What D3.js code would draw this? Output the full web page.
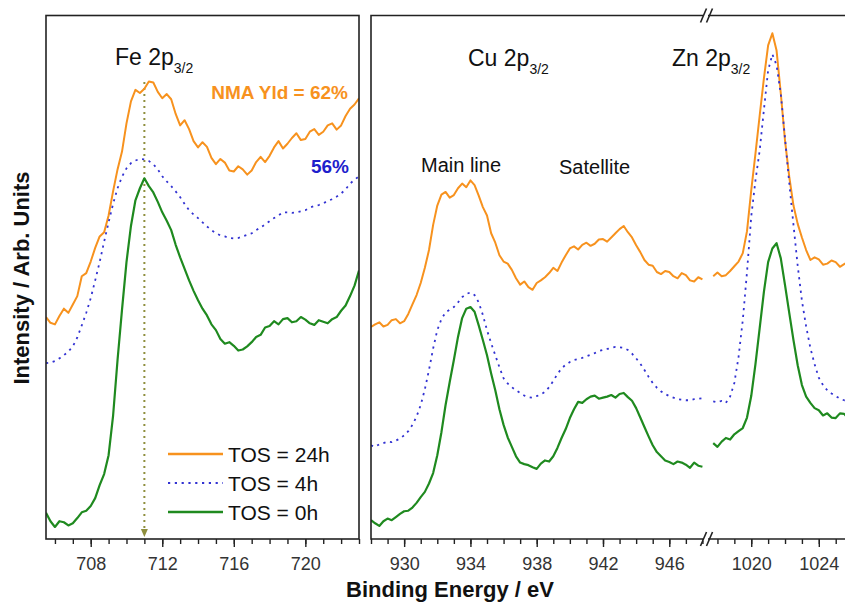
<!DOCTYPE html>
<html>
<head>
<meta charset="utf-8">
<script src="https://cdn.jsdelivr.net/npm/d3@7"></script>
<style>
  body { margin: 0; background: #fff; }
  svg { font-family: "Liberation Sans", Arial, sans-serif; }
</style>
</head>
<body>
<div id="chart-holder"></div>
<script>
// values, intensity in arbitrary units (0-100)
var feEnergy = [705.5, 705.75, 706, 706.25, 706.5, 706.75, 707, 707.25, 707.5, 707.75,
  708, 708.25, 708.5, 708.75, 709, 709.25, 709.5, 709.75, 710, 710.25,
  710.5, 710.75, 711, 711.25, 711.5, 711.75, 712, 712.25, 712.5, 712.75,
  713, 713.25, 713.5, 713.75, 714, 714.25, 714.5, 714.75, 715, 715.25,
  715.5, 715.75, 716, 716.25, 716.5, 716.75, 717, 717.25, 717.5, 717.75,
  718, 718.25, 718.5, 718.75, 719, 719.25, 719.5, 719.75, 720, 720.25,
  720.5, 720.75, 721, 721.25, 721.5, 721.75, 722, 722.25, 722.5, 722.75, 723];
var fe24h = [42.4, 41.3, 41.0, 42.6, 44.0, 43.2, 44.8, 46.4, 50.2, 50.8,
  53.0, 55.6, 57.8, 58.6, 61.8, 66.4, 70.6, 74.0, 79.4, 83.6,
  85.8, 85.2, 86.0, 87.4, 87.2, 85.4, 84.2, 85.0, 84.0, 81.2,
  79.0, 80.0, 78.3, 76.0, 74.8, 75.8, 74.9, 72.8, 71.6, 72.6,
  71.9, 70.4, 70.2, 71.2, 70.6, 69.6, 70.4, 72.0, 73.0, 72.0,
  73.2, 74.8, 76.0, 74.6, 75.5, 76.6, 77.5, 76.2, 76.4, 77.8,
  78.3, 77.2, 77.8, 79.0, 79.4, 78.2, 79.0, 80.8, 82.2, 83.0, 84.2];
var fe4h = [33.6, 33.7, 34.0, 34.5, 35.1, 35.8, 36.8, 38.5, 40.8, 43.2,
  46.0, 49.4, 52.9, 56.8, 60.5, 64.0, 67.0, 69.2, 70.8, 71.8,
  72.3, 72.6, 72.5, 72.2, 71.6, 70.6, 69.3, 68.3, 67.4, 66.4,
  65.3, 64.0, 62.8, 62.0, 61.3, 60.5, 59.7, 59.0, 58.4, 58.0,
  57.8, 57.5, 57.4, 57.5, 57.8, 58.1, 58.4, 59.0, 59.5, 60.1,
  60.7, 61.3, 61.8, 62.4, 62.4, 62.3, 62.4, 62.6, 62.8, 63.3,
  63.6, 63.8, 64.1, 64.6, 64.9, 65.4, 66.0, 66.8, 67.9, 68.6, 69.3];
var fe0h = [5.0, 3.4, 2.3, 3.4, 3.2, 2.6, 3.0, 4.0, 5.1, 5.4,
  6.3, 7.8, 10.3, 12.4, 16.0, 23.5, 34.2, 43.8, 52.9, 59.8,
  64.7, 67.0, 68.9, 67.4, 66.2, 64.4, 62.4, 60.8, 59.0, 56.2,
  53.8, 51.6, 49.4, 47.4, 45.6, 44.0, 42.7, 41.0, 39.9, 38.2,
  37.3, 37.6, 36.9, 36.0, 36.2, 36.8, 37.6, 38.6, 39.0, 40.4,
  40.7, 41.6, 41.0, 42.0, 42.2, 41.4, 41.6, 42.4, 41.9, 41.2,
  40.9, 41.8, 41.5, 41.2, 42.0, 42.4, 43.6, 44.6, 46.4, 48.4, 51.3];

var cuEnergy = [928, 928.25, 928.5, 928.75, 929, 929.25, 929.5, 929.75, 930, 930.25,
  930.5, 930.75, 931, 931.25, 931.5, 931.75, 932, 932.25, 932.5, 932.75,
  933, 933.25, 933.5, 933.75, 934, 934.25, 934.5, 934.75, 935, 935.25,
  935.5, 935.75, 936, 936.25, 936.5, 936.75, 937, 937.25, 937.5, 937.75,
  938, 938.25, 938.5, 938.75, 939, 939.25, 939.5, 939.75, 940, 940.25,
  940.5, 940.75, 941, 941.25, 941.5, 941.75, 942, 942.25, 942.5, 942.75,
  943, 943.25, 943.5, 943.75, 944, 944.25, 944.5, 944.75, 945, 945.25,
  945.5, 945.75, 946, 946.25, 946.5, 946.75, 947, 947.25, 947.5, 947.75, 948];
var cu24h = [40.5, 41.0, 41.4, 40.6, 40.9, 41.8, 42.0, 41.2, 41.6, 43.0,
  44.8, 46.6, 48.9, 51.8, 55.2, 60.0, 63.7, 65.8, 66.3, 65.2,
  65.7, 67.0, 67.9, 67.2, 68.5, 67.6, 65.6, 63.4, 61.8, 58.4,
  56.6, 54.2, 53.0, 52.6, 51.4, 49.8, 48.6, 49.2, 48.1, 47.6,
  48.9, 49.4, 50.0, 50.8, 51.8, 51.2, 52.8, 54.2, 55.5, 55.9,
  55.3, 56.2, 56.6, 56.0, 56.4, 57.2, 57.3, 56.8, 57.6, 58.4,
  59.2, 59.8, 58.6, 57.6, 56.1, 54.8, 53.3, 52.4, 52.2, 51.0,
  50.6, 51.2, 51.0, 50.2, 49.8, 50.8, 50.4, 49.4, 49.2, 50.0, 49.6];
var cu4h = [17.9, 17.6, 18.1, 18.3, 18.6, 18.5, 18.8, 19.2, 19.8, 20.6,
  21.8, 23.4, 25.6, 28.6, 32.3, 36.4, 39.9, 42.0, 43.3, 43.8,
  44.3, 45.2, 46.2, 46.8, 47.1, 46.6, 45.2, 42.8, 39.9, 37.4,
  35.1, 32.8, 30.7, 29.7, 29.0, 28.4, 27.9, 27.4, 27.1, 27.0,
  27.3, 27.6, 28.1, 29.0, 30.2, 31.5, 32.6, 33.3, 33.8, 34.2,
  34.4, 34.6, 34.9, 35.2, 35.5, 35.9, 36.1, 36.3, 36.5, 36.7,
  36.6, 36.5, 36.1, 35.4, 34.5, 33.5, 32.3, 31.0, 29.8, 28.9,
  28.2, 27.7, 27.3, 27.0, 26.7, 26.6, 26.5, 26.5, 26.7, 26.8, 26.9];
var cu0h = [3.6, 3.0, 2.5, 3.4, 3.9, 3.6, 4.2, 4.8, 5.3, 5.4,
  6.0, 6.9, 8.0, 9.0, 10.6, 12.6, 16.0, 20.4, 25.6, 30.0,
  34.2, 38.6, 42.2, 44.0, 44.3, 43.4, 40.8, 38.0, 35.1, 31.6,
  28.4, 24.8, 21.8, 19.4, 17.6, 15.8, 14.6, 14.3, 14.1, 13.7,
  13.4, 14.4, 15.0, 14.8, 15.8, 17.4, 19.3, 21.0, 23.1, 24.8,
  26.2, 26.0, 26.7, 27.2, 27.4, 26.8, 27.0, 27.2, 27.5, 27.0,
  27.7, 27.9, 27.1, 26.4, 25.0, 23.2, 21.4, 19.6, 17.9, 16.6,
  15.8, 15.0, 14.7, 14.3, 14.8, 14.6, 14.2, 13.6, 14.6, 14.0, 13.8];

var znEnergy = [1017.75, 1018, 1018.25, 1018.5, 1018.75, 1019, 1019.25, 1019.5, 1019.75,
  1020, 1020.25, 1020.5, 1020.75, 1021, 1021.25, 1021.5, 1021.75, 1022, 1022.25,
  1022.5, 1022.75, 1023, 1023.25, 1023.5, 1023.75, 1024, 1024.25, 1024.5, 1024.75,
  1025, 1025.25, 1025.5, 1025.75, 1026];
var zn24h = [50.2, 50.9, 50.2, 50.4, 51.2, 52.1, 53.0, 54.6, 58.8,
  66.6, 73.6, 80.9, 88.0, 94.3, 96.6, 93.3, 85.1, 76.1, 69.2,
  63.7, 60.2, 57.6, 55.2, 53.3, 53.8, 53.4, 52.4, 52.6, 53.2,
  52.9, 52.0, 52.5, 53.0, 52.8];
var zn4h = [26.3, 26.1, 26.4, 26.0, 27.2, 29.8, 34.8, 41.8, 51.0,
  61.6, 68.5, 74.2, 82.0, 89.5, 92.6, 90.5, 85.0, 76.5, 68.0,
  60.0, 52.2, 45.5, 40.6, 36.5, 33.4, 30.8, 29.4, 28.4, 27.8,
  27.3, 26.8, 26.5, 26.4, 26.4];
var zn0h = [18.3, 17.6, 18.6, 19.3, 19.0, 20.0, 20.6, 21.2, 23.2,
  27.3, 33.4, 40.3, 47.2, 52.9, 55.5, 56.5, 53.6, 48.5, 43.2,
  38.0, 33.2, 29.4, 27.2, 26.0, 25.0, 24.6, 23.6, 24.0, 23.2,
  23.1, 24.0, 23.9, 23.0, 23.4];

var feTicks = [708, 712, 716, 720];
var cuTicks = [930, 934, 938, 942, 946];
var znTicks = [1020, 1024];

var seriesNames = ["TOS = 24h", "TOS = 4h", "TOS = 0h"];
var yieldLabels = ["NMA Yld = 62%", "56%"];
var feMarker = 711;

// initializing constants for the figure
var width = 845,
    height = 602,
    plotTop = 15.5,
    plotBottom = 539;

var colors = ["#f7921e", "#3232d2", "#1f8a1f"];
var dashes = [null, "2.2,4.6", null];
var widths = [2, 1.8, 2.2];

var svg = d3
.select("#chart-holder")
.append("svg")
.attr("width", width)
.attr("height", height);

var y = d3.scaleLinear().domain([0, 100]).range([plotBottom, plotTop]);

var xFe = d3.scaleLinear().domain([705.5, 723]).range([46, 359]);
var xCu = d3.scaleLinear().domain([928, 948.3]).range([371, 707.4]);
var xZn = d3.scaleLinear().domain([1017.5, 1026]).range([709, 852.6]);

// clip areas for the two panels
var defs = svg.append("defs");
defs.append("clipPath").attr("id", "clip-fe")
  .append("rect").attr("x", 46).attr("y", plotTop).attr("width", 313).attr("height", plotBottom - plotTop);
defs.append("clipPath").attr("id", "clip-cu")
  .append("rect").attr("x", 371).attr("y", plotTop).attr("width", 500).attr("height", plotBottom - plotTop);

function drawSeries(xs, energy, series, clipId) {
  var g = svg.append("g").attr("clip-path", "url(#" + clipId + ")");
  series.forEach(function(vals, i) {
    var line = d3.line()
      .x(function(d) { return xs(d[0]); })
      .y(function(d) { return y(d[1]); });
    g.append("path")
      .datum(d3.zip(energy, vals))
      .attr("d", line)
      .attr("fill", "none")
      .attr("stroke", colors[i])
      .attr("stroke-width", widths[i])
      .attr("stroke-linejoin", "round")
      .attr("stroke-dasharray", dashes[i]);
  });
}

// marker line at the Fe peak (drawn under the curves)
var mx = xFe(feMarker);
svg.append("line")
  .attr("x1", mx).attr("x2", mx)
  .attr("y1", 82).attr("y2", 530)
  .attr("stroke", "#8f8f3e")
  .attr("stroke-width", 2)
  .attr("stroke-dasharray", "2,4");
svg.append("path")
  .attr("d", "M" + (mx - 3.5) + ",529 L" + (mx + 3.5) + ",529 L" + mx + ",537 Z")
  .attr("fill", "#8f8f3e");

drawSeries(xFe, feEnergy, [fe24h, fe4h, fe0h], "clip-fe");
drawSeries(xCu, cuEnergy, [cu24h, cu4h, cu0h], "clip-cu");
drawSeries(xZn, znEnergy, [zn24h, zn4h, zn0h], "clip-cu");

// axes
function drawAxis(xs, minor, major) {
  var gMinor = svg.append("g")
    .attr("transform", "translate(0," + plotBottom + ")")
    .call(d3.axisBottom(xs).tickValues(minor).tickSize(5).tickFormat(""));
  gMinor.select(".domain").remove();
  var gMajor = svg.append("g")
    .attr("transform", "translate(0," + plotBottom + ")")
    .call(d3.axisBottom(xs).tickValues(major).tickSize(8).tickPadding(10).tickFormat(d3.format("d")));
  gMajor.select(".domain").remove();
  svg.selectAll(".tick line").attr("stroke", "#222").attr("stroke-width", 1.4);
  gMajor.selectAll("text")
    .attr("font-size", 18)
    .attr("fill", "#333")
    .attr("font-family", "Liberation Sans, Arial, sans-serif");
}

drawAxis(xFe, d3.range(706, 724), feTicks);
drawAxis(xCu, d3.range(928, 949), cuTicks);
drawAxis(xZn, d3.range(1018, 1027), znTicks);

// panel frames
svg.append("rect")
  .attr("x", 46).attr("y", plotTop)
  .attr("width", 313).attr("height", plotBottom - plotTop)
  .attr("fill", "none").attr("stroke", "#222").attr("stroke-width", 1.6);
svg.append("path")
  .attr("d", "M871," + plotTop + " H371 V" + plotBottom + " H871")
  .attr("fill", "none").attr("stroke", "#222").attr("stroke-width", 1.6);

// axis break marks
[plotTop, plotBottom].forEach(function(yy) {
  svg.append("rect").attr("x", 703).attr("y", yy - 2).attr("width", 5).attr("height", 4).attr("fill", "#fff");
  [700.5, 706.5].forEach(function(bx) {
    svg.append("line")
      .attr("x1", bx).attr("y1", yy + 7)
      .attr("x2", bx + 6).attr("y2", yy - 7)
      .attr("stroke", "#222").attr("stroke-width", 1.6);
  });
});

// peak labels
function peakLabel(x0, y0, main, size) {
  var t = svg.append("text")
    .attr("x", x0).attr("y", y0)
    .attr("font-size", size)
    .attr("fill", "#111");
  t.append("tspan").text(main);
  t.append("tspan").attr("font-size", 14).attr("dy", 8).text("3/2");
}
peakLabel(115, 65, "Fe 2p", 23);
peakLabel(468, 66, "Cu 2p", 23);
peakLabel(672, 66, "Zn 2p", 23);

svg.append("text").attr("x", 421).attr("y", 172).attr("font-size", 20).attr("fill", "#111").text("Main line");
svg.append("text").attr("x", 559).attr("y", 174).attr("font-size", 20).attr("fill", "#111").text("Satellite");

svg.append("text")
  .attr("x", 348).attr("y", 99)
  .attr("text-anchor", "end")
  .attr("font-size", 19).attr("font-weight", "bold")
  .attr("fill", colors[0])
  .text(yieldLabels[0]);
svg.append("text")
  .attr("x", 349).attr("y", 173)
  .attr("text-anchor", "end")
  .attr("font-size", 19).attr("font-weight", "bold")
  .attr("fill", "#1e1ecc")
  .text(yieldLabels[1]);

// legend
var legend = svg.append("g").attr("class", "legend");
seriesNames.forEach(function(name, i) {
  var ly = 454 + i * 29;
  legend.append("line")
    .attr("x1", 168).attr("x2", 223)
    .attr("y1", ly).attr("y2", ly)
    .attr("stroke", colors[i])
    .attr("stroke-width", widths[i] + 0.4)
    .attr("stroke-dasharray", dashes[i]);
  legend.append("text")
    .attr("x", 228).attr("y", ly + 8)
    .attr("font-size", 21)
    .attr("fill", "#111")
    .text(name);
});

// axis titles
svg.append("text")
  .attr("x", 450).attr("y", 597)
  .attr("text-anchor", "middle")
  .attr("font-size", 22).attr("font-weight", "bold")
  .attr("fill", "#111")
  .text("Binding Energy / eV");
svg.append("text")
  .attr("transform", "translate(29,278) rotate(-90)")
  .attr("text-anchor", "middle")
  .attr("font-size", 22).attr("font-weight", "bold")
  .attr("fill", "#111")
  .text("Intensity / Arb. Units");
</script>
</body>
</html>
